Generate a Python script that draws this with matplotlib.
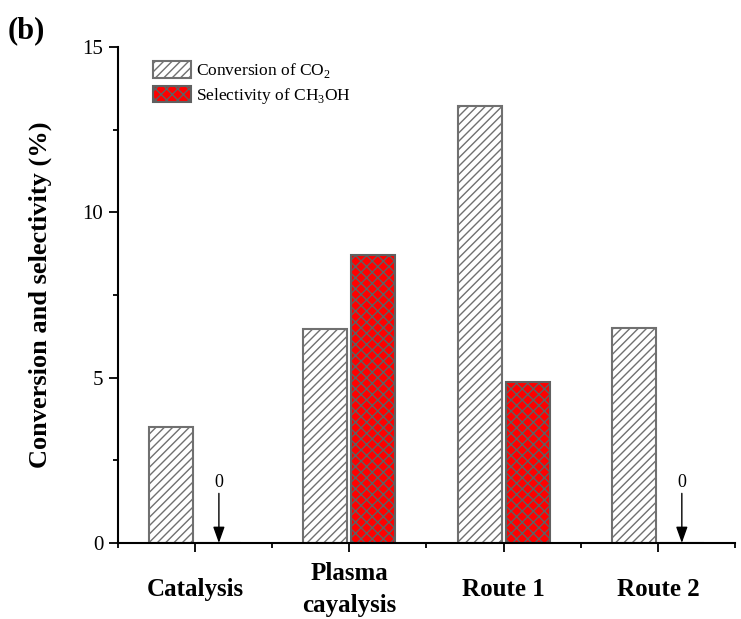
import matplotlib
matplotlib.use('Agg')
import matplotlib.pyplot as plt
import numpy as np
from matplotlib.ticker import MultipleLocator

plt.rcParams['font.family'] = ['Liberation Serif', 'DejaVu Serif']
plt.rcParams['mathtext.fontset'] = 'custom'
plt.rcParams['mathtext.rm'] = 'Liberation Serif'
plt.rcParams['hatch.linewidth'] = 1.0

# data
categories = ['Catalysis', 'Plasma\ncayalysis', 'Route 1', 'Route 2']
conversion = [3.5, 6.47, 13.22, 6.5]
selectivity = [0.0, 8.71, 4.88, 0.0]

x = np.arange(1, len(categories) + 1)
w = 0.285
off = 0.155

fig = plt.figure(figsize=(7.41, 6.19), dpi=100)
ax = fig.add_axes([0.159, 0.1228, 0.833, 0.8012])

b1 = ax.bar(x - off, conversion, w, facecolor='white', edgecolor='#707070',
            hatch='////', linewidth=1.5, label=r'Conversion of CO$_\mathregular{2}$')
b2 = ax.bar(x + off, selectivity, w, facecolor='#ff0000', edgecolor='#606060',
            hatch='xxx', linewidth=1.5, label=r'Selectivity of CH$_\mathregular{3}$OH')

# zero values get an arrow and a "0"
for xi, v in zip(x, selectivity):
    if v == 0:
        ax.annotate('', xy=(xi + off, 0), xytext=(xi + off, 1.5),
                    arrowprops=dict(arrowstyle='-|>,head_length=0.7,head_width=0.25',
                                    color='black', lw=1, mutation_scale=14,
                                    shrinkA=0, shrinkB=0))
        ax.text(xi + off, 1.58, '0', ha='center', va='bottom', fontsize=13)

ax.set_xlim(0.5, 4.5)
ax.set_ylim(0, 15)
ax.yaxis.set_major_locator(MultipleLocator(5))
ax.yaxis.set_minor_locator(MultipleLocator(2.5))
ax.set_xticks(x)
ax.xaxis.set_minor_locator(MultipleLocator(0.5))
ax.set_xticklabels(categories, fontsize=18, fontweight='bold', va='center',
                   linespacing=1.5)

ax.spines['top'].set_visible(False)
ax.spines['right'].set_visible(False)
for s in ['left', 'bottom']:
    ax.spines[s].set_linewidth(1.5)

ax.tick_params(axis='both', which='major', direction='out', length=6.5, width=1.3)
ax.tick_params(axis='both', which='minor', direction='out', length=3.5, width=1.3)
ax.tick_params(axis='x', which='major', pad=27)
ax.tick_params(axis='y', which='major', labelsize=15, pad=4)

ax.set_ylabel('Conversion and selectivity (%)', fontsize=19, fontweight='bold',
              labelpad=22)

leg = ax.legend(loc='upper left', bbox_to_anchor=(0.045, 0.985), frameon=False,
                fontsize=12.5, handlelength=2.2, handleheight=1.05,
                handletextpad=0.3, labelspacing=0.3, borderaxespad=0)

fig.text(0.036, 0.95, '(b)', fontsize=22, fontweight='bold', ha='center', va='center')

fig.savefig('out.png', dpi=100)
